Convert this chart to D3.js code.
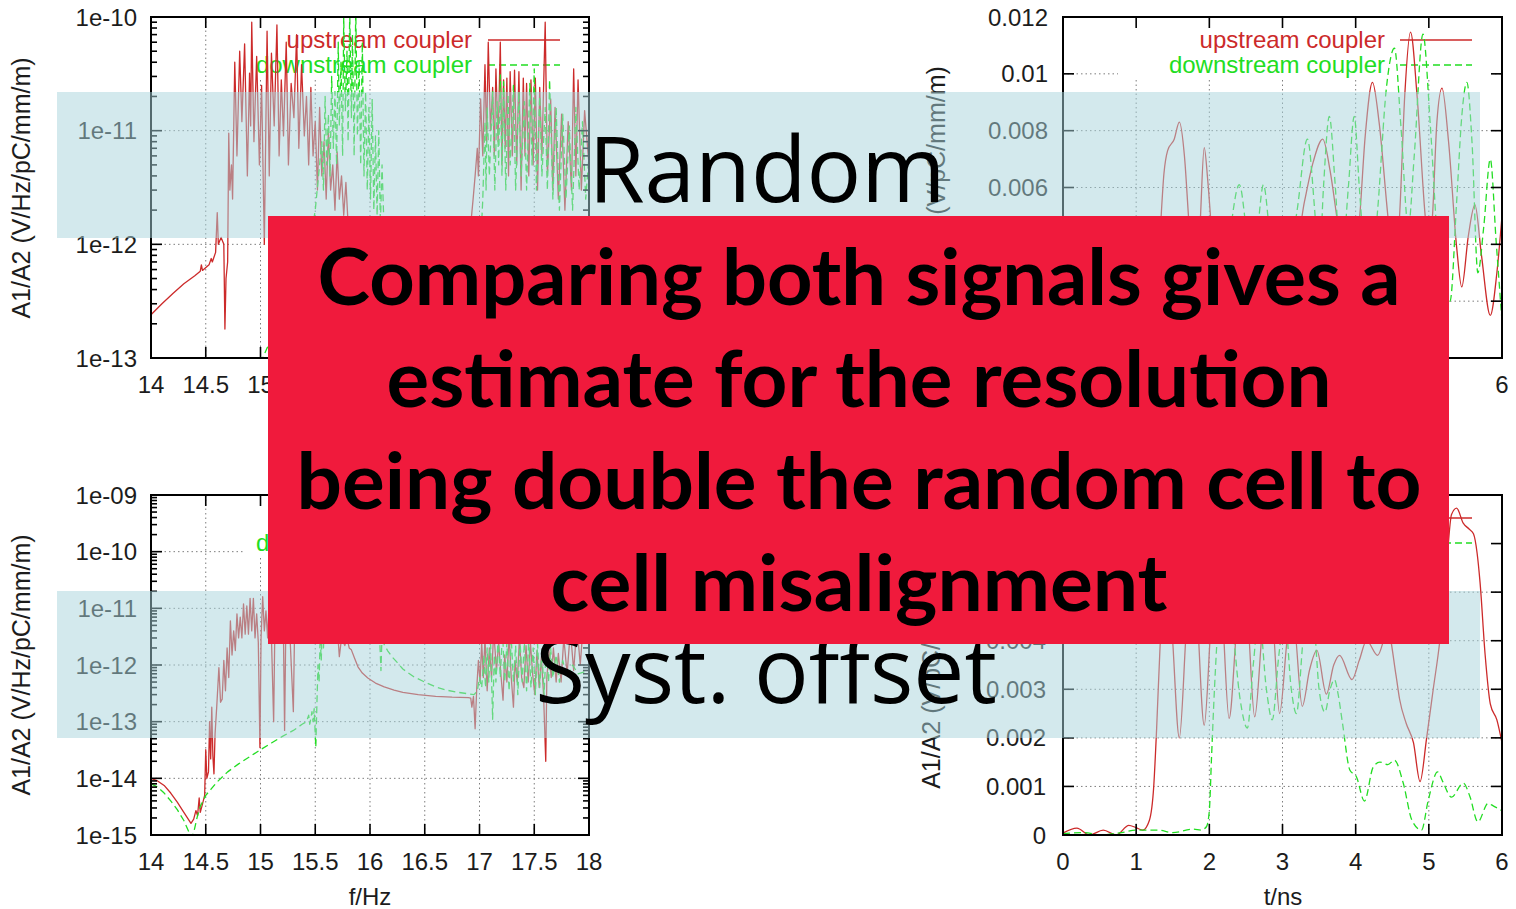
<!DOCTYPE html>
<html>
<head>
<meta charset="utf-8">
<script src="https://cdn.jsdelivr.net/npm/d3@7"></script>
<style>
  html, body { margin: 0; padding: 0; background: #fff; }
  svg { display: block; }
</style>
</head>
<body>
<script>
// ---------------------------------------------------------------
// Tick values and labels
// ---------------------------------------------------------------
const freqTicks = [14, 14.5, 15, 15.5, 16, 16.5, 17, 17.5, 18];
const timeTicks = [0, 1, 2, 3, 4, 5, 6];
const randFreqDecades = [1e-13, 1e-12, 1e-11, 1e-10];
const randFreqDecadeLabels = ["1e-13", "1e-12", "1e-11", "1e-10"];
const systFreqDecades = [1e-15, 1e-14, 1e-13, 1e-12, 1e-11, 1e-10, 1e-9];
const systFreqDecadeLabels = ["1e-15", "1e-14", "1e-13", "1e-12", "1e-11", "1e-10", "1e-09"];
const randTimeTicks = [0, 0.002, 0.004, 0.006, 0.008, 0.01, 0.012];
const systTimeTicks = [0, 0.001, 0.002, 0.003, 0.004, 0.005, 0.006, 0.007];
const seriesNames = ["upstream coupler", "downstream coupler"];
const bandLabels = ["Random", "Syst. offset"];
const messageLines = [
  "Comparing both signals gives a",
  "estimate for the resolution",
  "being double the random cell to",
  "cell misalignment"
];

// ---------------------------------------------------------------
// Random misalignment, spectrum  [f/Hz, A1/A2]
// ---------------------------------------------------------------
const randFreqUpstream = [
  [14.00,2.4e-13],[14.10,3.0e-13],[14.20,3.7e-13],[14.30,4.5e-13],[14.40,5.3e-13],[14.45,5.8e-13],
  [14.46,6.6e-13],[14.47,5.9e-13],[14.53,6.6e-13],[14.55,7.5e-13],[14.56,7.0e-13],[14.59,8.5e-13],
  [14.605,1.9e-12],[14.615,1.0e-12],[14.64,1.15e-12],[14.665,1.0e-12],[14.675,1.8e-13],[14.685,5.0e-13],
  [14.70,7.0e-13],[14.71,9.5e-12],[14.72,3.0e-12],[14.735,5.0e-12],[14.745,2.5e-12],
  [14.765,4.0e-11],[14.785,6.0e-12],[14.81,5.0e-11],[14.83,1.2e-11],[14.855,5.8e-11],[14.88,4.0e-12],
  [14.90,3.2e-11],[14.91,1.1e-11],[14.92,9.0e-11],[14.94,8.0e-12],[14.965,4.5e-11],[14.99,5.0e-12],
  [15.01,2.5e-11],[15.035,1.0e-12],[15.06,7.5e-11],[15.08,4.0e-12],[15.10,4.8e-11],[15.125,1.1e-11],
  [15.15,8.5e-11],[15.17,6.0e-12],[15.19,2.8e-11],[15.21,9.0e-12],[15.235,6.0e-11],[15.255,5.0e-12],
  [15.28,2.6e-11],[15.305,1.3e-11],[15.33,7.0e-11],[15.35,7.0e-12],[15.375,3.8e-11],[15.40,9.0e-12],
  [15.42,2.0e-11],[15.44,5.0e-12],[15.46,2.4e-11],[15.48,6.0e-12],[15.50,1.2e-11],[15.52,3.0e-12],
  [15.54,1.6e-11],[15.56,4.0e-12],[15.58,8.0e-12],[15.60,2.5e-12],[15.62,1.0e-11],[15.64,3.0e-12],
  [15.66,5.0e-12],[15.68,2.0e-12],[15.70,6.5e-12],[15.72,2.5e-12],[15.74,4.0e-12],[15.76,1.8e-12],
  [15.78,3.5e-12],[15.80,1.5e-12],[15.85,1.0e-12],[15.95,6.0e-13],[16.10,4.5e-13],[16.30,3.5e-13],
  [16.50,3.0e-13],[16.70,2.7e-13],[16.88,2.6e-13],[16.92,1.5e-12],[16.94,2.4e-12],[16.96,4.0e-12],
  [16.98,7.0e-12],[16.99,4.0e-12],[17.01,1.9e-11],[17.03,6.0e-12],[17.05,3.8e-11],[17.065,8.0e-12],
  [17.08,6.0e-11],[17.10,1.0e-11],[17.12,2.4e-11],[17.135,6.0e-12],[17.15,3.5e-11],[17.17,8.0e-12],
  [17.19,6.0e-11],[17.205,5.0e-12],[17.22,2.8e-11],[17.235,7.0e-12],[17.25,2.9e-11],[17.265,4.0e-12],
  [17.28,3.3e-11],[17.30,6.0e-12],[17.32,3.4e-11],[17.34,5.0e-12],[17.36,3.3e-11],[17.38,3.0e-12],
  [17.40,2.9e-11],[17.415,6.0e-12],[17.43,2.6e-11],[17.45,4.0e-12],[17.47,2.8e-11],[17.49,5.0e-12],
  [17.51,2.9e-11],[17.53,3.0e-12],[17.55,2.4e-11],[17.57,6.0e-12],[17.60,9.0e-11],[17.62,4.0e-12],
  [17.65,1.9e-11],[17.67,3.0e-12],[17.69,1.6e-11],[17.72,2.5e-12],[17.75,1.4e-11],[17.78,2.0e-12],
  [17.81,1.2e-11],[17.84,3.0e-12],[17.86,3.5e-11],[17.88,4.0e-12],[17.90,2.8e-11],[17.93,3.0e-12],
  [17.96,1.5e-11],[18.00,5.0e-12]
];
const randFreqDownstream = [
  [15.00,9.0e-14],[15.10,1.5e-13],[15.20,2.2e-13],[15.30,3.5e-13],[15.40,6.0e-13],[15.45,1.0e-12],
  [15.50,2.0e-12],[15.53,4.0e-12],[15.56,8.0e-12],[15.575,3.0e-12],[15.59,2.0e-11],[15.605,5.0e-12],
  [15.62,1.4e-11],[15.635,4.0e-12],[15.65,3.0e-11],[15.665,7.0e-12],[15.68,2.2e-11],[15.695,5.0e-12],
  [15.71,6.0e-11],[15.72,1.1e-11],[15.735,4.0e-11],[15.75,6.0e-12],[15.76,1.0e-10],[15.775,1.5e-11],
  [15.79,5.0e-11],[15.80,8.0e-12],[15.815,1.1e-10],[15.83,1.3e-11],[15.84,7.0e-11],[15.855,6.0e-12],
  [15.87,1.2e-10],[15.885,9.0e-12],[15.90,4.0e-11],[15.915,5.0e-12],[15.93,6.0e-11],[15.945,4.0e-12],
  [15.96,2.2e-11],[15.975,3.0e-12],[15.99,1.6e-11],[16.005,2.5e-12],[16.02,1.9e-11],[16.035,2.0e-12],
  [16.05,9.0e-12],[16.065,1.8e-12],[16.08,1.0e-11],[16.095,1.5e-12],[16.11,5.0e-12],[16.13,1.2e-12],
  [16.20,8.0e-13],[16.35,5.5e-13],[16.50,4.5e-13],[16.70,3.8e-13],[16.90,3.5e-13],[17.00,6.0e-13],
  [17.03,2.5e-12],[17.05,1.2e-11],[17.06,3.0e-12],[17.07,1.6e-11],[17.09,4.0e-12],[17.12,2.2e-11],
  [17.14,3.0e-12],[17.16,1.8e-11],[17.175,5.0e-12],[17.19,3.1e-11],[17.205,4.0e-12],[17.22,2.7e-11],
  [17.24,3.0e-12],[17.26,2.1e-11],[17.28,5.0e-12],[17.31,2.5e-11],[17.33,3.0e-12],[17.36,2.2e-11],
  [17.38,4.0e-12],[17.41,1.8e-11],[17.43,3.0e-12],[17.46,2.6e-11],[17.48,5.0e-12],[17.50,3.5e-11],
  [17.52,3.0e-12],[17.55,2.0e-11],[17.57,4.0e-12],[17.60,1.6e-11],[17.62,3.0e-12],[17.64,2.8e-11],
  [17.67,2.5e-12],[17.70,1.6e-11],[17.73,2.0e-12],[17.76,1.4e-11],[17.79,2.5e-12],[17.82,1.1e-11],
  [17.85,2.0e-12],[17.88,1.6e-11],[17.91,3.0e-12],[17.94,1.2e-11],[17.97,2.5e-12],[18.00,6.0e-12]
];

// ---------------------------------------------------------------
// Random misalignment, time domain  [t/ns, A1/A2]
// ---------------------------------------------------------------
const randTimeUpstream = [
  [0,0.0001],[0.2,0.0002],[0.4,0.00005],[0.6,0.0002],[0.8,0.0001],[1.0,0.0002],[1.1,0.0001],
  [1.2,0.0003],[1.27,0.002],[1.33,0.0045],[1.38,0.0065],[1.43,0.0073],[1.52,0.0077],[1.59,0.0083],
  [1.66,0.0071],[1.72,0.0048],[1.8,0.0022],[1.87,0.0045],[1.93,0.0074],[1.98,0.0062],[2.04,0.0042],
  [2.12,0.0027],[2.22,0.0042],[2.3,0.0047],[2.4,0.0032],[2.5,0.0026],[2.6,0.0044],[2.7,0.0048],
  [2.8,0.0033],[2.9,0.0027],[3.0,0.0038],[3.1,0.0045],[3.2,0.0042],[3.3,0.0055],[3.42,0.0069],
  [3.55,0.0077],[3.65,0.0066],[3.74,0.005],[3.84,0.0031],[3.95,0.0029],[4.05,0.0048],[4.13,0.0078],
  [4.23,0.0097],[4.32,0.0083],[4.44,0.005],[4.52,0.0031],[4.6,0.005],[4.67,0.0092],[4.75,0.01147],
  [4.84,0.0092],[4.95,0.005],[5.0,0.0038],[5.05,0.005],[5.11,0.0083],[5.18,0.0095],[5.27,0.0076],
  [5.38,0.0039],[5.45,0.0025],[5.54,0.0043],[5.63,0.0054],[5.72,0.0036],[5.84,0.0015],[5.93,0.003],
  [6.0,0.005]
];
const randTimeDownstream = [
  [0,0.0],[0.3,0.0001],[0.6,0.00003],[0.9,0.0001],[1.2,0.00005],[1.5,0.0001],[1.8,0.00005],
  [2.0,0.0001],[2.1,0.0003],[2.2,0.0022],[2.3,0.0047],[2.41,0.0061],[2.5,0.0046],[2.58,0.0026],
  [2.66,0.0045],[2.74,0.0061],[2.82,0.0045],[2.9,0.0026],[3.0,0.0029],[3.1,0.0036],[3.2,0.0052],
  [3.34,0.0077],[3.44,0.0052],[3.5,0.0031],[3.56,0.006],[3.64,0.0085],[3.72,0.0061],[3.8,0.0031],
  [3.9,0.006],[3.98,0.0085],[4.05,0.006],[4.12,0.0036],[4.2,0.0026],[4.3,0.0052],[4.42,0.0095],
  [4.53,0.0109],[4.62,0.0081],[4.72,0.0046],[4.8,0.0071],[4.92,0.0114],[5.02,0.0082],[5.12,0.0041],
  [5.2,0.0026],[5.29,0.002],[5.38,0.0055],[5.45,0.0085],[5.52,0.0097],[5.59,0.0076],[5.67,0.003],
  [5.75,0.0046],[5.84,0.0070],[5.92,0.0041],[6.0,0.0013]
];

// ---------------------------------------------------------------
// Systematic offset, spectrum  [f/Hz, A1/A2]
// ---------------------------------------------------------------
const systFreqUpstream = [
  [14.00,1.0e-14],[14.06,9.0e-15],[14.12,7.5e-15],[14.18,5.5e-15],[14.24,3.8e-15],[14.30,2.5e-15],
  [14.34,1.9e-15],[14.365,1.6e-15],[14.39,1.9e-15],[14.41,2.7e-15],[14.425,2.2e-15],[14.44,4.5e-15],
  [14.45,2.5e-15],[14.47,3.5e-15],[14.49,5.0e-15],[14.50,3.2e-14],[14.51,1.0e-14],[14.525,1.3e-14],
  [14.535,1.0e-13],[14.545,2.2e-14],[14.555,1.8e-13],[14.565,2.5e-14],[14.575,1.2e-14],[14.585,6.0e-14],
  [14.60,1.8e-13],[14.62,9.0e-13],[14.635,2.2e-13],[14.65,2.5e-13],[14.665,1.2e-12],[14.68,3.5e-13],
  [14.695,2.0e-12],[14.71,6.0e-13],[14.725,6.0e-12],[14.74,1.5e-12],[14.755,4.0e-12],[14.77,1.8e-12],
  [14.785,8.0e-12],[14.80,3.0e-12],[14.815,7.0e-12],[14.83,3.0e-12],[14.845,1.2e-11],[14.86,3.5e-12],
  [14.875,1.1e-11],[14.89,3.5e-12],[14.905,1.5e-11],[14.92,4.0e-12],[14.935,1.5e-11],[14.95,3.0e-12],
  [14.965,8.0e-12],[14.98,2.5e-12],[14.995,3.5e-14],[15.005,3.0e-12],[15.02,1.6e-11],[15.035,4.0e-12],
  [15.05,9.0e-12],[15.065,3.0e-12],[15.08,1.6e-11],[15.10,3.0e-12],[15.12,1.0e-13],[15.13,3.0e-12],
  [15.15,1.2e-11],[15.17,3.5e-12],[15.19,1.6e-11],[15.21,3.0e-12],[15.22,7.0e-14],[15.23,3.0e-12],
  [15.25,1.1e-11],[15.27,3.0e-12],[15.30,1.5e-13],[15.31,3.0e-12],[15.33,1.2e-11],[15.36,3.0e-12],
  [15.40,1.0e-11],[15.43,3.0e-12],[15.46,9.0e-12],[15.49,3.0e-12],[15.52,8.0e-12],[15.55,2.5e-12],
  [15.58,8.0e-12],[15.61,2.5e-12],[15.64,6.0e-12],[15.67,2.5e-12],[15.70,5.0e-12],[15.72,1.4e-12],
  [15.74,3.0e-12],[15.77,2.2e-12],[15.79,3.0e-12],[15.81,2.0e-12],[15.83,1.85e-12],[15.86,1.3e-12],
  [15.89,9.3e-13],[15.93,7.2e-13],[15.98,5.9e-13],[16.05,4.8e-13],[16.13,4.1e-13],[16.22,3.6e-13],
  [16.30,3.3e-13],[16.44,3.0e-13],[16.60,2.8e-13],[16.75,2.7e-13],[16.90,2.65e-13],[16.92,2.6e-13],
  [16.93,1.8e-13],[16.945,2.8e-13],[16.96,7.5e-14],[16.975,4.0e-13],[16.99,1.2e-12],[17.005,5.0e-13],
  [17.02,2.5e-12],[17.035,6.0e-13],[17.05,3.0e-12],[17.07,3.5e-13],[17.09,2.0e-12],[17.11,6.0e-13],
  [17.13,4.0e-12],[17.155,8.0e-13],[17.175,2.5e-12],[17.195,7.0e-13],[17.215,2.4e-13],[17.23,1.5e-12],
  [17.25,5.0e-13],[17.27,3.5e-12],[17.29,6.0e-13],[17.31,1.8e-13],[17.325,1.2e-12],[17.345,5.0e-13],
  [17.365,3.0e-12],[17.385,6.0e-13],[17.405,4.0e-13],[17.425,2.2e-12],[17.445,5.0e-13],[17.465,2.5e-12],
  [17.485,7.0e-13],[17.505,3.0e-13],[17.525,1.8e-12],[17.545,4.0e-13],[17.565,1.4e-12],[17.585,3.0e-13],
  [17.605,2.0e-14],[17.615,6.0e-13],[17.635,1.8e-12],[17.655,6.0e-13],[17.675,2.0e-12],[17.70,5.0e-13],
  [17.72,1.6e-12],[17.745,5.0e-13],[17.77,3.0e-12],[17.80,7.0e-13],[17.83,4.0e-12],[17.86,8.0e-13],
  [17.89,5.0e-12],[17.92,1.0e-12],[17.95,6.0e-12],[18.00,3.0e-12]
];
const systFreqDownstream = [
  [14.00,8.0e-15],[14.06,7.0e-15],[14.12,5.5e-15],[14.18,4.0e-15],[14.24,2.8e-15],[14.30,1.8e-15],
  [14.34,1.2e-15],[14.37,9.0e-16],[14.39,1.1e-15],[14.42,2.0e-15],[14.45,3.2e-15],[14.50,5.0e-15],
  [14.55,6.5e-15],[14.60,8.5e-15],[14.70,1.3e-14],[14.80,1.8e-14],[14.90,2.4e-14],[15.00,3.2e-14],
  [15.10,4.2e-14],[15.20,5.5e-14],[15.30,7.0e-14],[15.38,9.0e-14],[15.42,1.0e-13],[15.44,1.3e-13],
  [15.45,9.0e-14],[15.47,1.5e-13],[15.48,1.0e-13],[15.49,1.7e-13],[15.505,3.6e-14],[15.515,2.0e-13],
  [15.525,1.0e-12],[15.535,5.0e-13],[15.545,3.0e-12],[15.555,1.2e-12],[15.565,6.0e-12],[15.575,2.0e-12],
  [15.59,1.0e-11],[15.62,3.0e-12],[15.65,2.0e-11],[15.68,5.0e-12],[15.71,3.0e-11],[15.74,6.0e-12],
  [15.77,4.0e-11],[15.80,8.0e-12],[15.83,3.0e-11],[15.86,6.0e-12],[15.89,2.0e-11],[15.92,5.0e-12],
  [15.95,1.5e-11],[15.98,4.0e-12],[16.01,1.0e-11],[16.04,3.5e-12],[16.07,6.0e-12],[16.09,2.5e-12],
  [16.10,8.0e-13],[16.11,3.5e-12],[16.13,2.3e-12],[16.16,1.8e-12],[16.20,1.4e-12],[16.25,1.1e-12],
  [16.30,8.5e-13],[16.40,6.2e-13],[16.50,5.0e-13],[16.60,4.1e-13],[16.70,3.6e-13],[16.80,3.3e-13],
  [16.90,3.1e-13],[16.95,3.0e-13],[16.98,3.5e-13],[17.00,6.0e-13],[17.02,4.0e-13],[17.04,1.5e-12],
  [17.055,4.0e-13],[17.07,2.0e-12],[17.085,5.0e-13],[17.10,3.0e-12],[17.12,1.1e-13],[17.135,1.5e-12],
  [17.15,5.0e-13],[17.17,3.0e-12],[17.19,6.0e-13],[17.21,4.0e-12],[17.23,5.0e-13],[17.25,2.5e-12],
  [17.27,3.5e-13],[17.29,3.0e-12],[17.31,5.0e-13],[17.33,2.2e-12],[17.35,3.0e-13],[17.37,2.8e-12],
  [17.39,5.0e-13],[17.41,2.5e-12],[17.43,3.5e-13],[17.45,3.0e-12],[17.47,4.0e-13],[17.49,2.0e-12],
  [17.51,3.0e-13],[17.53,2.4e-12],[17.55,4.0e-13],[17.57,1.8e-12],[17.59,3.0e-13],[17.61,2.5e-12],
  [17.63,5.0e-13],[17.65,2.0e-12],[17.67,6.0e-13],[17.70,1.5e-12],[17.73,5.0e-13],[17.76,1.2e-12],
  [17.80,6.0e-13],[17.85,1.0e-12],[17.90,7.0e-13],[18.00,8.0e-13]
];

// ---------------------------------------------------------------
// Systematic offset, time domain  [t/ns, A1/A2]
// ---------------------------------------------------------------
const systTimeUpstream = [
  [0,0.00004],[0.19,0.00014],[0.36,0.0],[0.55,0.0001],[0.73,0.0],[0.9,0.0002],[1.0,0.00015],
  [1.09,0.0001],[1.18,0.0003],[1.24,0.001],[1.28,0.0022],[1.33,0.004],[1.4,0.0052],[1.48,0.0044],
  [1.59,0.002],[1.7,0.0045],[1.8,0.0051],[1.93,0.00226],[2.05,0.0048],[2.15,0.005],[2.27,0.0024],
  [2.4,0.0046],[2.5,0.0048],[2.62,0.00243],[2.75,0.0045],[2.85,0.0046],[2.96,0.0025],[3.08,0.0042],
  [3.15,0.0044],[3.27,0.00265],[3.37,0.0034],[3.47,0.0038],[3.6,0.0029],[3.7,0.0035],[3.78,0.0037],
  [3.95,0.0032],[4.05,0.0036],[4.15,0.004],[4.3,0.0037],[4.44,0.0042],[4.55,0.0033],[4.6,0.0028],
  [4.69,0.0023],[4.79,0.0019],[4.88,0.0011],[4.97,0.002],[5.06,0.003],[5.15,0.004],[5.24,0.0055],
  [5.31,0.0066],[5.38,0.00673],[5.47,0.00642],[5.55,0.0063],[5.61,0.0062],[5.66,0.0058],[5.70,0.0052],
  [5.77,0.0037],[5.84,0.0027],[5.93,0.00237],[6.0,0.0019]
];
const systTimeDownstream = [
  [0,0.00003],[0.3,0.00005],[0.5,0.0],[0.8,0.00005],[1.0,0.0001],[1.3,0.0001],[1.5,0.00005],
  [1.78,0.00012],[1.89,0.0001],[1.96,0.00017],[2.0,0.0005],[2.03,0.0016],[2.07,0.003],[2.13,0.0045],
  [2.2,0.005],[2.3,0.0045],[2.42,0.0028],[2.52,0.0022],[2.6,0.0035],[2.68,0.0045],[2.78,0.003],
  [2.86,0.00237],[2.95,0.0037],[3.03,0.0045],[3.12,0.003],[3.19,0.0025],[3.3,0.0042],[3.42,0.0044],
  [3.5,0.003],[3.58,0.00253],[3.65,0.003],[3.71,0.0032],[3.76,0.0029],[3.82,0.0023],[3.92,0.00134],
  [4.01,0.0012],[4.12,0.0007],[4.24,0.0014],[4.33,0.0015],[4.44,0.00145],[4.53,0.00154],[4.65,0.00107],
  [4.77,0.0003],[4.9,0.0001],[4.99,0.0007],[5.12,0.0013],[5.19,0.0011],[5.31,0.00078],[5.47,0.00107],
  [5.56,0.0008],[5.67,0.00027],[5.81,0.00065],[5.88,0.0006],[6.0,0.0005]
];

// ---------------------------------------------------------------
// Layout of the four panels
// ---------------------------------------------------------------
const RED = "#cc2a2a", GREEN = "#22dd22";
const fmtLinear = d => d === 0 ? "0" : String(+d.toFixed(4));
const MESSAGE_BOX = { x: 268, y: 216, w: 1181, h: 428 };

const panels = [
  { left: 151, right: 589, top: 17, bottom: 358, log: true,
    xDomain: [14, 18], yDomain: [1e-13, 1e-10],
    xTicks: freqTicks, yTicks: randFreqDecades, yTickLabels: randFreqDecadeLabels,
    up: randFreqUpstream, down: randFreqDownstream, smooth: false,
    yTitle: "A1/A2 (V/Hz/pC/mm/m)", yTitleX: 30, yTitleY: 188, xTitle: "f/Hz", xTitleX: 370,
    keyBox: [245, 17, 582, 80], keyTextX: 472, keySample: [488, 560], labelRight: 137 },
  { left: 1063, right: 1502, top: 17, bottom: 358, log: false,
    xDomain: [0, 6], yDomain: [0, 0.012],
    xTicks: timeTicks, yTicks: randTimeTicks, yTickLabels: randTimeTicks.map(fmtLinear),
    up: randTimeUpstream, down: randTimeDownstream, smooth: true,
    yTitle: "A1/A2 (V/pC/mm/m)", yTitleX: 945, yTitleY: 178, xTitle: "t/ns", xTitleX: 1283,
    keyBox: [1118, 17, 1495, 80], keyTextX: 1385, keySample: [1400, 1472], labelRight: 1048 },
  { left: 151, right: 589, top: 495, bottom: 835, log: true,
    xDomain: [14, 18], yDomain: [1e-15, 1e-9],
    xTicks: freqTicks, yTicks: systFreqDecades, yTickLabels: systFreqDecadeLabels,
    up: systFreqUpstream, down: systFreqDownstream, smooth: false,
    yTitle: "A1/A2 (V/Hz/pC/mm/m)", yTitleX: 30, yTitleY: 665, xTitle: "f/Hz", xTitleX: 370,
    keyBox: [245, 495, 582, 558], keyTextX: 472, keySample: [488, 560], labelRight: 137 },
  { left: 1063, right: 1502, top: 495, bottom: 835, log: false,
    xDomain: [0, 6], yDomain: [0, 0.007],
    xTicks: timeTicks, yTicks: systTimeTicks, yTickLabels: systTimeTicks.map(fmtLinear),
    up: systTimeUpstream, down: systTimeDownstream, smooth: true,
    yTitle: "A1/A2 (V/pC/mm/m)", yTitleX: 940, yTitleY: 677, xTitle: "t/ns", xTitleX: 1283,
    keyBox: [1118, 495, 1495, 558], keyTextX: 1385, keySample: [1400, 1472], labelRight: 1046 }
];

const svg = d3.select("body").append("svg")
  .attr("width", 1516).attr("height", 909)
  .style("font-family", "'Liberation Sans', Arial, sans-serif");

const defs = svg.append("defs");

panels.forEach((p, i) => {
  const g = svg.append("g").attr("class", "panel");
  const x = d3.scaleLinear().domain(p.xDomain).range([p.left, p.right]);
  const y = (p.log ? d3.scaleLog() : d3.scaleLinear()).domain(p.yDomain).range([p.bottom, p.top]);

  // dotted grid at interior ticks
  const grid = g.append("g")
    .attr("stroke", "#7d7d7d").attr("stroke-width", 1).attr("stroke-dasharray", "1.5,3");
  grid.selectAll("line.gv").data(p.xTicks.slice(1, -1)).join("line").attr("class", "gv")
    .attr("x1", d => x(d)).attr("x2", d => x(d)).attr("y1", p.top).attr("y2", p.bottom);
  grid.selectAll("line.gh").data(p.yTicks.slice(1, -1)).join("line").attr("class", "gh")
    .attr("x1", p.left).attr("x2", p.right).attr("y1", d => y(d)).attr("y2", d => y(d));

  // key area is opaque over the grid
  const kb = p.keyBox;
  g.append("rect").attr("x", kb[0]).attr("y", kb[1])
    .attr("width", kb[2] - kb[0]).attr("height", kb[3] - kb[1]).attr("fill", "#fff");

  // key entries
  const rows = [
    { name: seriesNames[0], color: RED, dash: null, yy: p.top + 23 },
    { name: seriesNames[1], color: GREEN, dash: "7,4", yy: p.top + 48 }
  ];
  const key = g.append("g").attr("font-size", 24);
  key.selectAll("text").data(rows).join("text")
    .attr("x", p.keyTextX).attr("y", d => d.yy + 8)
    .attr("text-anchor", "end").attr("fill", d => d.color)
    .text(d => d.name);
  key.selectAll("line").data(rows).join("line")
    .attr("x1", p.keySample[0]).attr("x2", p.keySample[1])
    .attr("y1", d => d.yy).attr("y2", d => d.yy)
    .attr("stroke", d => d.color).attr("stroke-width", 1.3)
    .attr("stroke-dasharray", d => d.dash);

  // curves, clipped to the plotting area
  const clipId = "clip" + i;
  defs.append("clipPath").attr("id", clipId).append("rect")
    .attr("x", p.left).attr("y", p.top)
    .attr("width", p.right - p.left).attr("height", p.bottom - p.top);
  const line = d3.line()
    .x(d => x(d[0])).y(d => y(d[1]))
    .curve(p.smooth ? d3.curveMonotoneX : d3.curveLinear);
  const curves = g.append("g").attr("clip-path", `url(#${clipId})`).attr("fill", "none");
  curves.append("path").datum(p.up).attr("d", line)
    .attr("stroke", RED).attr("stroke-width", 1.3).attr("stroke-linejoin", "round");
  curves.append("path").datum(p.down).attr("d", line)
    .attr("stroke", GREEN).attr("stroke-width", 1.3).attr("stroke-dasharray", "7,4")
    .attr("stroke-linejoin", "round");

  // frame
  g.append("rect").attr("x", p.left).attr("y", p.top)
    .attr("width", p.right - p.left).attr("height", p.bottom - p.top)
    .attr("fill", "none").attr("stroke", "#000").attr("stroke-width", 2);

  // tick marks, mirrored on all four sides
  const ticks = g.append("g").attr("stroke", "#000").attr("stroke-width", 1.6);
  const MAJ = 11, MIN = 6;
  ticks.selectAll("line.xb").data(p.xTicks).join("line").attr("class", "xb")
    .attr("x1", d => x(d)).attr("x2", d => x(d)).attr("y1", p.bottom).attr("y2", p.bottom - MAJ);
  ticks.selectAll("line.xt").data(p.xTicks).join("line").attr("class", "xt")
    .attr("x1", d => x(d)).attr("x2", d => x(d)).attr("y1", p.top).attr("y2", p.top + MAJ);
  ticks.selectAll("line.yl").data(p.yTicks).join("line").attr("class", "yl")
    .attr("x1", p.left).attr("x2", p.left + MAJ).attr("y1", d => y(d)).attr("y2", d => y(d));
  ticks.selectAll("line.yr").data(p.yTicks).join("line").attr("class", "yr")
    .attr("x1", p.right).attr("x2", p.right - MAJ).attr("y1", d => y(d)).attr("y2", d => y(d));
  if (p.log) {
    const minor = y.ticks().filter(v => !p.yTicks.some(m => Math.abs(m - v) / m < 1e-6));
    ticks.selectAll("line.ml").data(minor).join("line").attr("class", "ml")
      .attr("x1", p.left).attr("x2", p.left + MIN).attr("y1", d => y(d)).attr("y2", d => y(d));
    ticks.selectAll("line.mr").data(minor).join("line").attr("class", "mr")
      .attr("x1", p.right).attr("x2", p.right - MIN).attr("y1", d => y(d)).attr("y2", d => y(d));
  }

  // tick labels
  const labels = g.append("g").attr("font-size", 24).attr("fill", "#1c1c1c");
  labels.selectAll("text.xl").data(p.xTicks).join("text").attr("class", "xl")
    .attr("x", d => x(d)).attr("y", p.bottom + 35).attr("text-anchor", "middle")
    .text(d => String(d));
  labels.selectAll("text.yl").data(p.yTicks).join("text").attr("class", "yl")
    .attr("x", p.labelRight).attr("y", d => y(d)).attr("dy", "0.36em").attr("text-anchor", "end")
    .text((d, k) => p.yTickLabels[k]);

  // axis titles
  g.append("text").attr("font-size", 25).attr("fill", "#1c1c1c")
    .attr("text-anchor", "middle")
    .attr("transform", `translate(${p.yTitleX},${p.yTitleY}) rotate(-90)`)
    .text(p.yTitle);
  g.append("text").attr("font-size", 24).attr("fill", "#1c1c1c")
    .attr("text-anchor", "middle").attr("x", p.xTitleX).attr("y", p.bottom + 70)
    .text(p.xTitle);
});

// Panel texts that end up entirely under the message box are left out.
svg.selectAll("g.panel text").each(function () {
  const b = this.getBBox();
  const inside = b.x >= MESSAGE_BOX.x && b.x + b.width <= MESSAGE_BOX.x + MESSAGE_BOX.w &&
                 b.y >= MESSAGE_BOX.y && b.y + b.height <= MESSAGE_BOX.y + MESSAGE_BOX.h;
  if (inside) this.remove();
});

// ---------------------------------------------------------------
// Highlight bands with their captions
// ---------------------------------------------------------------
const bands = [
  { y0: 92, y1: 238, label: bandLabels[0], tx: 767, ty: 202 },
  { y0: 591, y1: 738, label: bandLabels[1], tx: 766, ty: 703 }
];
svg.append("g").selectAll("rect").data(bands).join("rect")
  .attr("x", 57).attr("width", 1423)
  .attr("y", d => d.y0).attr("height", d => d.y1 - d.y0)
  .attr("fill", "#a8d3db").attr("fill-opacity", 0.5);
svg.append("g").selectAll("text").data(bands).join("text")
  .attr("x", d => d.tx).attr("y", d => d.ty)
  .attr("text-anchor", "middle")
  .attr("font-family", "'Open Sans', 'Noto Sans', sans-serif")
  .attr("font-size", 91).attr("fill", "#000")
  .text(d => d.label);

// ---------------------------------------------------------------
// Message box
// ---------------------------------------------------------------
svg.append("rect")
  .attr("x", MESSAGE_BOX.x).attr("y", MESSAGE_BOX.y)
  .attr("width", MESSAGE_BOX.w).attr("height", MESSAGE_BOX.h)
  .attr("fill", "#f01a3c");
const lineBaselines = [305, 407, 509, 611];
const lineWidths = [1083, 945, 1125, 617];
svg.append("g").selectAll("text").data(messageLines).join("text")
  .attr("x", 859).attr("y", (d, k) => lineBaselines[k])
  .attr("text-anchor", "middle")
  .attr("font-family", "Lato, 'Open Sans', sans-serif")
  .attr("font-weight", 700).attr("font-size", 78).attr("fill", "#000")
  .attr("textLength", (d, k) => lineWidths[k])
  .attr("lengthAdjust", "spacingAndGlyphs")
  .text(d => d);
</script>
</body>
</html>
